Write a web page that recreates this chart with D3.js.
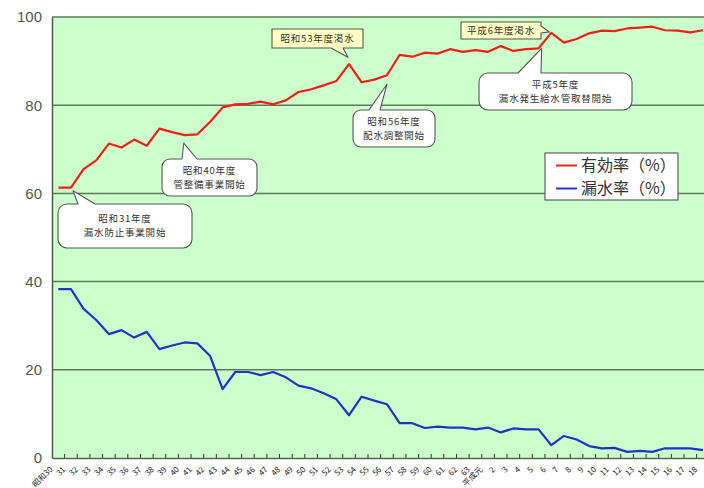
<!DOCTYPE html>
<html>
<head>
<meta charset="utf-8">
<script src="https://cdn.jsdelivr.net/npm/d3@7"></script>
<style>
  html, body { margin: 0; padding: 0; background: #fff; }
  svg { display: block; }
</style>
</head>
<body>
<svg id="chart" width="704" height="488"></svg>
<script>
// Fiscal years: Showa 30 (1955) through Heisei 18 (2006)
const years = [
  "昭和30","31","32","33","34","35","36","37","38","39",
  "40","41","42","43","44","45","46","47","48","49",
  "50","51","52","53","54","55","56","57","58","59",
  "60","61","62","63","平成元","2","3","4","5","6",
  "7","8","9","10","11","12","13","14","15","16",
  "17","18"
];

// 有効率 (%)
const effectiveRate = [
  61.3, 61.3, 65.5, 67.5, 71.3, 70.4, 72.2, 70.8, 74.7, 73.9,
  73.2, 73.4, 76.2, 79.5, 80.2, 80.3, 80.8, 80.2, 81.1, 83.0,
  83.6, 84.5, 85.5, 89.3, 85.2, 85.8, 86.8, 91.4, 91.0, 91.9,
  91.7, 92.7, 92.1, 92.5, 92.1, 93.4, 92.3, 92.7, 92.9, 96.4,
  94.2, 95.0, 96.3, 96.9, 96.8, 97.4, 97.6, 97.8, 97.0, 96.9,
  96.5, 97.0
];

// 漏水率 (%)
const leakageRate = [
  38.3, 38.3, 33.8, 31.3, 28.1, 29.0, 27.3, 28.6, 24.7, 25.5,
  26.2, 26.0, 23.2, 15.6, 19.5, 19.5, 18.8, 19.5, 18.3, 16.4,
  15.8, 14.7, 13.3, 9.7, 13.9, 13.0, 12.2, 7.9, 7.9, 6.8,
  7.1, 6.9, 6.9, 6.5, 6.9, 5.8, 6.7, 6.5, 6.5, 2.9,
  5.0, 4.2, 2.7, 2.2, 2.3, 1.4, 1.6, 1.4, 2.2, 2.2,
  2.2, 1.8
];

const yTicks = [0, 20, 40, 60, 80, 100];

const seriesNames = ["有効率（%）", "漏水率（%）"];
const seriesColors = ["#ee2018", "#1f35c8"];

const svg = d3.select("#chart");
const plot = { left: 52, top: 17, bottom: 458, right: 52 + 52 * 12.64 };

const x = d3.scaleBand().domain(years).range([plot.left, plot.right]).padding(0);
const cx = d => x(d) + x.bandwidth() / 2;
const y = d3.scaleLinear().domain([0, 100]).range([plot.bottom, plot.top]);

const jp = "'Noto Sans CJK JP', 'Noto Sans', sans-serif";

// plot background
svg.append("rect")
  .attr("x", plot.left).attr("y", plot.top)
  .attr("width", plot.right - plot.left).attr("height", plot.bottom - plot.top)
  .attr("fill", "#ccffcc");

// horizontal gridlines
svg.append("g")
  .selectAll("line")
  .data(yTicks.filter(t => t > 0))
  .join("line")
  .attr("x1", plot.left).attr("x2", plot.right)
  .attr("y1", d => y(d)).attr("y2", d => y(d))
  .attr("stroke", "#5c7a5c").attr("stroke-width", 1.5);

// y axis
const yAxis = svg.append("g")
  .attr("transform", `translate(${plot.left},0)`)
  .call(d3.axisLeft(y).tickValues(yTicks).tickSize(0).tickPadding(10));
yAxis.select(".domain").attr("stroke", "#555").attr("stroke-width", 1.5);
yAxis.selectAll("text")
  .attr("font-family", "'Liberation Sans', Arial, sans-serif")
  .attr("font-size", 15).attr("fill", "#555");

// x axis: inward ticks on category boundaries, rotated labels
const xAxis = svg.append("g")
  .attr("transform", `translate(0,${plot.bottom})`)
  .call(d3.axisBottom(x).tickSize(0).tickPadding(0));
xAxis.select(".domain").attr("stroke", "#4d664d").attr("stroke-width", 1.5);
xAxis.selectAll(".tick text")
  .attr("font-family", jp)
  .attr("font-size", 8).attr("fill", "#222")
  .attr("text-anchor", "end")
  .attr("dy", 0)
  .attr("transform", "translate(-5,12) rotate(-45)");
svg.append("g")
  .selectAll("line")
  .data(years.slice(1))
  .join("line")
  .attr("x1", d => x(d)).attr("x2", d => x(d))
  .attr("y1", plot.bottom).attr("y2", plot.bottom - 4)
  .attr("stroke", "#333").attr("stroke-width", 1);

// series lines
const line = d3.line().x((d, i) => cx(years[i])).y(d => y(d));
[effectiveRate, leakageRate].forEach((vals, k) => {
  svg.append("path")
    .datum(vals)
    .attr("d", line)
    .attr("fill", "none")
    .attr("stroke", seriesColors[k])
    .attr("stroke-width", 2.2)
    .attr("stroke-linejoin", "round");
});

// callout shapes: rounded box with a pointed tail on one side
function calloutPath(c) {
  const { bx, by, w, h, r, side, b1, b2 } = c;
  const [tx, ty] = c.tip;
  const p = d3.path();
  p.moveTo(bx + r, by);
  if (side === "top") { p.lineTo(b1, by); p.lineTo(tx, ty); p.lineTo(b2, by); }
  p.lineTo(bx + w - r, by);
  if (r) p.arcTo(bx + w, by, bx + w, by + r, r);
  if (side === "right") { p.lineTo(bx + w, b1); p.lineTo(tx, ty); p.lineTo(bx + w, b2); }
  p.lineTo(bx + w, by + h - r);
  if (r) p.arcTo(bx + w, by + h, bx + w - r, by + h, r);
  if (side === "bottom") { p.lineTo(b2, by + h); p.lineTo(tx, ty); p.lineTo(b1, by + h); }
  p.lineTo(bx + r, by + h);
  if (r) p.arcTo(bx, by + h, bx, by + h - r, r);
  p.lineTo(bx, by + r);
  if (r) p.arcTo(bx, by, bx + r, by, r);
  p.closePath();
  return p.toString();
}

const ptOf = (series, i, dx, dy) => [cx(years[i]) + dx, y(series[i]) + dy];

const callouts = [
  { lines: ["昭和31年度", "漏水防止事業開始"], bx: 58, by: 204, w: 134, h: 44, r: 9,
    side: "top", b1: 78, b2: 95, tip: ptOf(effectiveRate, 1, 2, 3), fill: "#fff" },
  { lines: ["昭和40年度", "管整備事業開始"], bx: 162, by: 159, w: 95, h: 37, r: 8,
    side: "top", b1: 182, b2: 197, tip: ptOf(effectiveRate, 10, -1, 8), fill: "#fff" },
  { lines: ["昭和53年度渇水"], bx: 272, by: 29, w: 91, h: 19, r: 0,
    side: "bottom", b1: 331, b2: 343, tip: ptOf(effectiveRate, 23, -1, -7), fill: "#ffffc4" },
  { lines: ["昭和56年度", "配水調整開始"], bx: 353, by: 110, w: 82, h: 37, r: 8,
    side: "top", b1: 369, b2: 380, tip: ptOf(effectiveRate, 26, 0, 9), fill: "#fff" },
  { lines: ["平成6年度渇水"], bx: 461, by: 22, w: 80, h: 17, r: 0,
    side: "right", b1: 26, b2: 33, tip: ptOf(effectiveRate, 39, -2, -1), fill: "#ffffc4" },
  { lines: ["平成5年度", "漏水発生給水管取替開始"], bx: 479, by: 73, w: 153, h: 37, r: 9,
    side: "top", b1: 518, b2: 541, tip: ptOf(effectiveRate, 38, 3, 0), fill: "#fff" }
];

const cg = svg.append("g");
callouts.forEach(c => {
  cg.append("path")
    .attr("d", calloutPath(c))
    .attr("fill", c.fill)
    .attr("stroke", "#555").attr("stroke-width", 1.1)
    .attr("stroke-linejoin", "round");
  const midX = c.bx + c.w / 2;
  const n = c.lines.length;
  const lh = 14;
  const startY = c.by + c.h / 2 - (n - 1) * lh / 2;
  c.lines.forEach((t, k) => {
    cg.append("text")
      .attr("x", midX).attr("y", startY + k * lh)
      .attr("dy", "0.36em")
      .attr("text-anchor", "middle")
      .attr("font-family", jp).attr("font-size", 9.5)
      .attr("letter-spacing", 0.8)
      .attr("fill", "#333")
      .text(t);
  });
});

// legend
const lg = svg.append("g");
lg.append("rect")
  .attr("x", 545).attr("y", 153).attr("width", 133).attr("height", 47)
  .attr("fill", "#fff").attr("stroke", "#444").attr("stroke-width", 1);
seriesNames.forEach((name, k) => {
  const ly = 165.5 + k * 23;
  lg.append("line")
    .attr("x1", 556).attr("x2", 577).attr("y1", ly).attr("y2", ly)
    .attr("stroke", seriesColors[k]).attr("stroke-width", 2);
  lg.append("text")
    .attr("x", 581).attr("y", ly).attr("dy", "0.36em")
    .attr("font-family", jp).attr("font-size", 16).attr("fill", "#333")
    .text(name);
});
</script>
</body>
</html>
